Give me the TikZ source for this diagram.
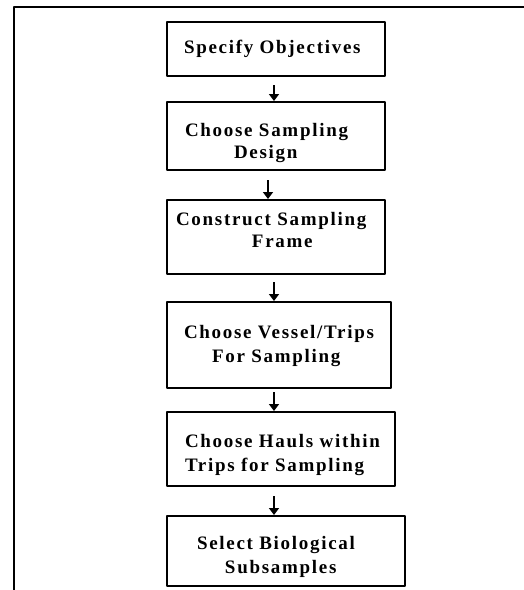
\documentclass[tikz,border=0pt]{standalone}
\usepackage{fontspec}
\setmainfont{Liberation Serif}
\newfontfamily\boxfont[LetterSpace=9]{Liberation Serif}
\usetikzlibrary{positioning,arrows.meta}
\begin{document}
\begin{tikzpicture}[>={Triangle[width=10pt,length=7pt]}, line join=round,
	stepbox/.style={draw, line width=2pt, anchor=north west, align=left, inner sep=0pt,
		font=\boxfont\bfseries\fontsize{19}{#1}\selectfont},
	stepbox/.default=24pt,
	flow/.style={->, line width=1.6pt}]
	\useasboundingbox (0,0) rectangle (523pt,-590pt);
	% outer frame, cut at the right and at the bottom
	\draw[line width=2pt] (14pt,-600pt) |- (530pt,-7pt);
	\node[stepbox, text width=218pt, text height=31.7pt, text depth=22.3pt] (spec) at (166pt,-21pt)
		{\hspace*{17pt}Specify Objectives};
	\node[stepbox=21.7pt, text width=218pt, text height=34.3pt, text depth=33.7pt, below=24pt of spec.south west, anchor=north west] (design)
		{\hspace*{18pt}Choose Sampling\\\hspace*{67pt}Design};
	\node[stepbox=22pt, text width=218pt, text height=25.7pt, text depth=48.3pt, below=28pt of design.south west, anchor=north west] (frame)
		{\hspace*{9pt}Construct Sampling\\\hspace*{85pt}Frame};
	\node[stepbox, text width=224pt, text height=36pt, text depth=50pt, below=26pt of frame.south west, anchor=north west] (vessel)
		{\hspace*{17pt}Choose Vessel/Trips\\\hspace*{45pt}For Sampling};
	\node[stepbox, text width=228pt, text height=35pt, text depth=39pt, below=22pt of vessel.south west, anchor=north west] (hauls)
		{\hspace*{18pt}Choose Hauls within\\\hspace*{18pt}Trips for Sampling};
	\node[stepbox, text width=238pt, text height=33pt, text depth=37pt, below=28pt of hauls.south west, anchor=north west] (subs)
		{\hspace*{30pt}Select Biological\\\hspace*{58pt}Subsamples};
	\draw[flow] ([xshift=-2pt,yshift=-8pt]spec.south) -- ([xshift=-2pt]spec.south |- design.north);
	\draw[flow] ([xshift=-8pt,yshift=-9pt]spec.south |- design.south) -- ([xshift=-8pt]spec.south |- frame.north);
	\draw[flow] ([xshift=-2pt,yshift=-7pt]spec.south |- frame.south) -- ([xshift=-2pt]spec.south |- vessel.north);
	\draw[flow] ([xshift=-2pt,yshift=-3pt]spec.south |- vessel.south) -- ([xshift=-2pt]spec.south |- hauls.north);
	\draw[flow] ([xshift=-2pt,yshift=-9pt]spec.south |- hauls.south) -- ([xshift=-2pt]spec.south |- subs.north);
\end{tikzpicture}
\end{document}
